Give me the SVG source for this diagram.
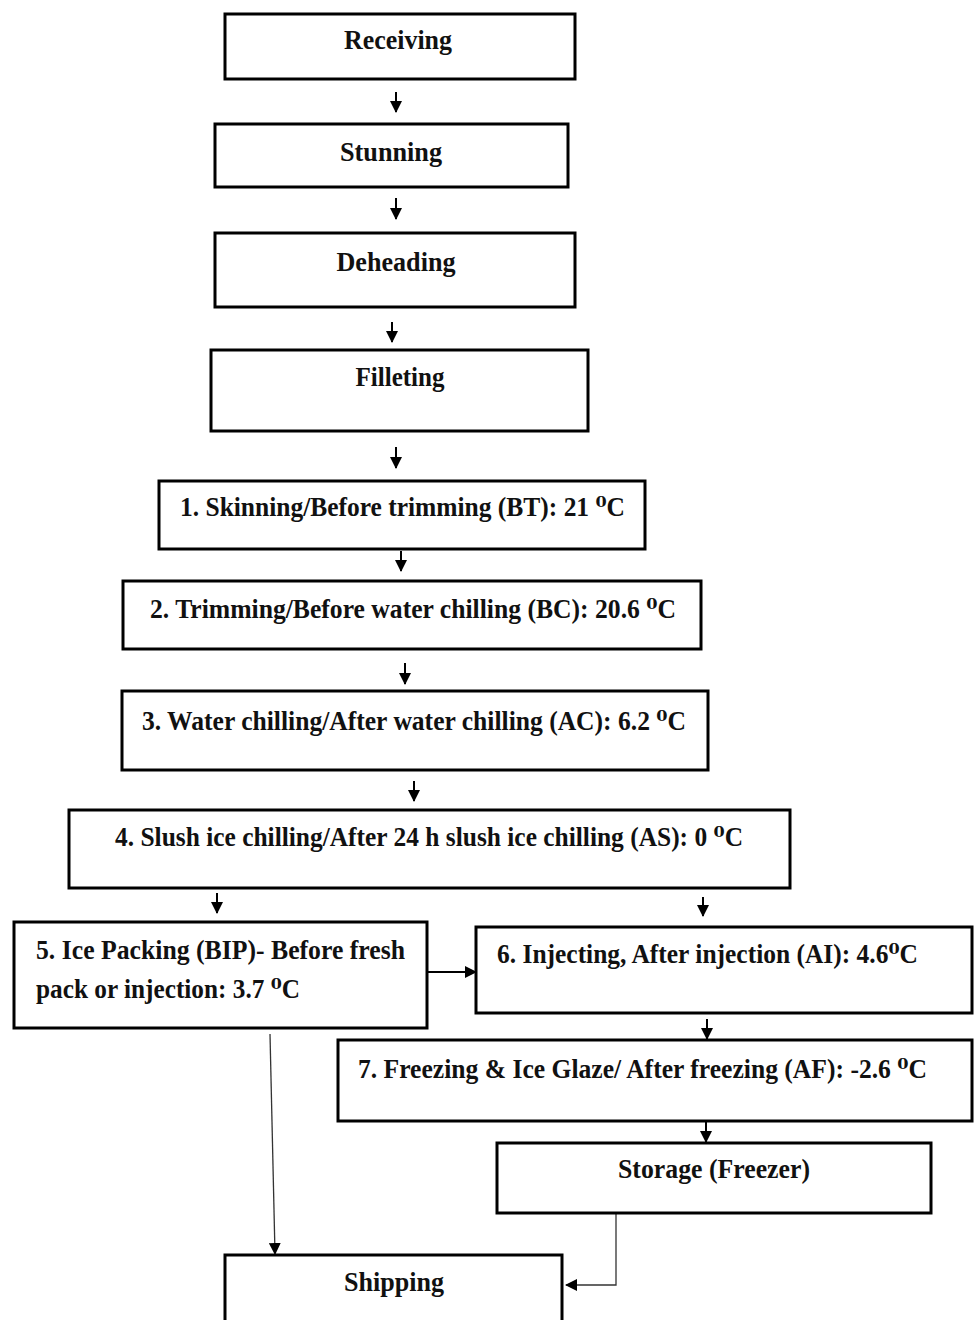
<svg xmlns="http://www.w3.org/2000/svg" width="974" height="1320" viewBox="0 0 974 1320">
<defs>
<style>
.box{fill:#fff;stroke:#000;stroke-width:3}
.t{font-family:"Liberation Serif","Times New Roman","DejaVu Serif",serif;font-weight:bold;font-size:27px;fill:#111}
.c{text-anchor:middle}
.ln{fill:none;stroke:#000;stroke-width:2}
.thin{fill:none;stroke:#333;stroke-width:1.3}
</style>
<marker id="ah" markerUnits="userSpaceOnUse" markerWidth="12" markerHeight="12" viewBox="0 0 12 12" refX="11" refY="6" orient="auto">
<path d="M0,0 L12,6 L0,12 z" fill="#000"/>
</marker>
</defs>
<rect width="974" height="1320" fill="#fff"/>
<g id="connectors">
<line class="ln" x1="396" y1="92" x2="396" y2="112" marker-end="url(#ah)"/>
<line class="ln" x1="396" y1="198" x2="396" y2="219" marker-end="url(#ah)"/>
<line class="ln" x1="392" y1="322" x2="392" y2="342" marker-end="url(#ah)"/>
<line class="ln" x1="396" y1="447" x2="396" y2="468" marker-end="url(#ah)"/>
<line class="ln" x1="401" y1="551" x2="401" y2="571" marker-end="url(#ah)"/>
<line class="ln" x1="405" y1="663" x2="405" y2="684" marker-end="url(#ah)"/>
<line class="ln" x1="414" y1="781" x2="414" y2="801" marker-end="url(#ah)"/>
<line class="ln" x1="217" y1="893" x2="217" y2="913" marker-end="url(#ah)"/>
<line class="ln" x1="703" y1="897" x2="703" y2="916" marker-end="url(#ah)"/>
<line class="ln" x1="428" y1="972" x2="476" y2="972" marker-end="url(#ah)"/>
<line class="ln" x1="707" y1="1019" x2="707" y2="1039" marker-end="url(#ah)"/>
<line class="ln" x1="706" y1="1122" x2="706" y2="1142" marker-end="url(#ah)"/>
<line class="thin" x1="270" y1="1034" x2="275" y2="1254" marker-end="url(#ah)"/>
<polyline class="thin" points="616,1214 616,1285 566,1285" marker-end="url(#ah)"/>
</g>
<g id="receiving"><rect class="box" x="225" y="14" width="350" height="65"/><text class="t c" x="398" y="49" textLength="108" lengthAdjust="spacingAndGlyphs">Receiving</text></g>
<g id="stunning"><rect class="box" x="215" y="124" width="353" height="63"/><text class="t c" x="391" y="161" textLength="102" lengthAdjust="spacingAndGlyphs">Stunning</text></g>
<g id="deheading"><rect class="box" x="215" y="233" width="360" height="74"/><text class="t c" x="396" y="271" textLength="119" lengthAdjust="spacingAndGlyphs">Deheading</text></g>
<g id="filleting"><rect class="box" x="211" y="350" width="377" height="81"/><text class="t c" x="400" y="386" textLength="89" lengthAdjust="spacingAndGlyphs">Filleting</text></g>
<g id="step1"><rect class="box" x="159" y="481" width="486" height="68"/><text class="t" x="180" y="516" textLength="445" lengthAdjust="spacingAndGlyphs">1. Skinning/Before trimming (BT): 21 ⁰C</text></g>
<g id="step2"><rect class="box" x="123" y="581" width="578" height="68"/><text class="t" x="150" y="618" textLength="526" lengthAdjust="spacingAndGlyphs">2. Trimming/Before water chilling (BC): 20.6 ⁰C</text></g>
<g id="step3"><rect class="box" x="122" y="691" width="586" height="79"/><text class="t" x="142" y="730" textLength="544" lengthAdjust="spacingAndGlyphs">3. Water chilling/After water chilling (AC): 6.2 ⁰C</text></g>
<g id="step4"><rect class="box" x="69" y="810" width="721" height="78"/><text class="t" x="115" y="846" textLength="628" lengthAdjust="spacingAndGlyphs">4. Slush ice chilling/After 24 h slush ice chilling (AS): 0 ⁰C</text></g>
<g id="step5"><rect class="box" x="14" y="922" width="413" height="106"/><text class="t" x="36" y="959" textLength="369" lengthAdjust="spacingAndGlyphs">5. Ice Packing (BIP)- Before fresh</text><text class="t" x="36" y="998" textLength="264" lengthAdjust="spacingAndGlyphs">pack or injection: 3.7 ⁰C</text></g>
<g id="step6"><rect class="box" x="476" y="927" width="496" height="86"/><text class="t" x="497" y="963" textLength="421" lengthAdjust="spacingAndGlyphs">6. Injecting, After injection (AI): 4.6⁰C</text></g>
<g id="step7"><rect class="box" x="338" y="1040" width="634" height="81"/><text class="t" x="358" y="1078" textLength="569" lengthAdjust="spacingAndGlyphs">7. Freezing &amp; Ice Glaze/ After freezing (AF): -2.6 ⁰C</text></g>
<g id="storage"><rect class="box" x="497" y="1143" width="434" height="70"/><text class="t c" x="714" y="1178" textLength="192" lengthAdjust="spacingAndGlyphs">Storage (Freezer)</text></g>
<g id="shipping"><rect class="box" x="225" y="1255" width="337" height="90"/><text class="t c" x="394" y="1291" textLength="100" lengthAdjust="spacingAndGlyphs">Shipping</text></g>
</svg>
